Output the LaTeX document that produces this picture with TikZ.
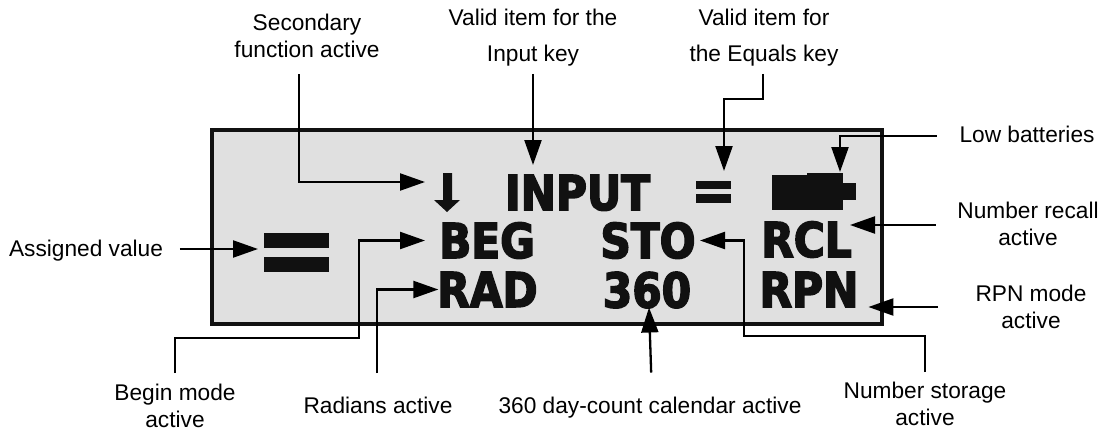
\documentclass[tikz,border=0pt]{standalone}
\usepackage{fontspec}
\setmainfont{Liberation Sans}
\newfontfamily\lcdfont[FakeStretch=0.88,FakeBold=3.2]{DejaVu Sans Bold}
\usetikzlibrary{arrows.meta,positioning}
\definecolor{lcdback}{RGB}{224,224,224}
\definecolor{lcdink}{RGB}{17,17,17}
\tikzset{
  lbl/.style={inner sep=0pt,outer sep=0pt,align=center,font=\fontsize{22.7}{27}\selectfont},
  lcd/.style={inner sep=0pt,outer sep=0pt,text=lcdink,text height=35pt,text depth=0pt,font=\lcdfont\fontsize{48}{48}\selectfont},
  bar/.style={fill=lcdink,inner sep=0pt,outer sep=0pt},
  conn/.style={draw=black,line width=2.3pt,-{Triangle[length=25pt,width=17pt]}}
}

\begin{document}
\begin{tikzpicture}[x=1pt,y=-1pt]
  \useasboundingbox (0,0) rectangle (1102,431);
  \node[draw=lcdink,fill=lcdback,line width=3.5pt,inner sep=0pt,outer sep=0pt,minimum width=670pt,minimum height=194pt] (panel) at (547,227) {};

  % display items
  \coordinate (downsym) at (447,193);
  \fill[lcdink] (443,173) -- (452,173) -- (452,200) -- (460,200) -- (447,212) -- (434,200) -- (443,200) -- cycle;
  \node[lcd,minimum width=149pt] (inputword) at (577.5,192.5) {INPUT};
  \node[bar,minimum width=35pt,minimum height=8pt] (smalltop) at (713.5,185) {};
  \node[bar,minimum width=35pt,minimum height=9pt] (smallbot) at (713.5,198.5) {};
  \node[bar,minimum width=71pt,minimum height=35pt] (batbody) at (807.5,192.5) {};
  \node[bar,minimum width=36pt,minimum height=4pt] (batrim) at (825,175) {};
  \node[bar,minimum width=13pt,minimum height=17pt] (batcap) at (849.5,191.5) {};
  \node[bar,minimum width=65pt,minimum height=15pt] (bigtop) at (296.5,240.5) {};
  \node[bar,minimum width=65pt,minimum height=15pt] (bigbot) at (296.5,264.5) {};
  \node[lcd,minimum width=96pt] (begword) at (487,240.5) {BEG};
  \node[lcd,minimum width=96pt] (stoword) at (648,240.5) {STO};
  \node[lcd,minimum width=93pt] (rclword) at (806.5,239.5) {RCL};
  \node[lcd,minimum width=97pt] (radword) at (487.5,289.5) {RAD};
  \node[lcd,minimum width=100pt] (calword) at (647,290) {360};
  \node[lcd,minimum width=96pt] (rpnword) at (809,289.5) {RPN};

  % labels
  \node[lbl,anchor=south] (seclabel) at (307,58) {Secondary\\function active};
  \node[lbl,anchor=south] (inputlabel) at (533,65.8) {Valid item for the\\[9pt]Input key};
  \node[lbl,anchor=south] (eqlabel) at (764,65.8) {Valid item for\\[9pt]the Equals key};
  \node[lbl] (lowlabel) at (1027,134) {Low batteries};
  \node[lbl] (rcllabel) at (1028,223.4) {Number recall\\active};
  \node[lbl] (rpnlabel) at (1031,306.4) {RPN mode\\active};
  \node[lbl] (assigned) at (86,250.2) {Assigned value};
  \node[lbl,anchor=north] (beginlabel) at (175,384) {Begin mode\\active};
  \node[lbl,anchor=north] (radlabel) at (378,397.5) {Radians active};
  \node[lbl,anchor=north] (callabel) at (650,397.5) {360 day-count calendar active};
  \node[lbl,anchor=north] (stolabel) at (925,382) {Number storage\\active};

  % jogs
  \coordinate (eqjog) at (724,99);
  \coordinate (begjog) at (359,338);
  \coordinate (stojog) at (744,336);

  \draw[conn,shorten <=16pt] ([xshift=-8pt]seclabel.south) |- ([xshift=-22pt,yshift=11pt]downsym);
  \draw[conn,shorten <=8pt,shorten >=10pt] (inputlabel.south) -- (inputlabel.south |- inputword.north);
  \draw[conn,shorten <=8pt] ([xshift=-1pt]eqlabel.south) |- (eqjog) -- ([yshift=10pt]eqjog |- smalltop.north);
  \draw[conn,shorten <=23pt] ([yshift=-2pt]lowlabel.west) -| ([xshift=-3pt,yshift=3pt]batbody.north east);
  \draw[conn,shorten <=21.5pt] ([yshift=-1.6pt]rcllabel.west) -- ([xshift=-3pt,yshift=14.5pt]rclword.east);
  \draw[conn,shorten <=37.5pt] ([yshift=-0.6pt]rpnlabel.west) -- ([xshift=10pt,yshift=-17.5pt]rpnword.east);
  \draw[conn,shorten <=17pt,shorten >=6pt] ([yshift=1.2pt]assigned.east) -- ([yshift=1.2pt]assigned.east -| bigtop.west);
  \draw[conn,shorten <=11pt] (beginlabel.north) |- (begjog) |- ([xshift=-14pt]begword.west);
  \draw[conn,shorten <=24.5pt] ([xshift=-1pt]radlabel.north) |- ([xshift=1pt]radword.west);
  \draw[conn,shorten <=25pt] ([xshift=2pt]callabel.north) -- ([xshift=2pt]calword.south);
  \draw[conn,shorten <=10pt] (stolabel.north) |- (stojog) |- ([xshift=4pt]stoword.east);
\end{tikzpicture}
\end{document}
